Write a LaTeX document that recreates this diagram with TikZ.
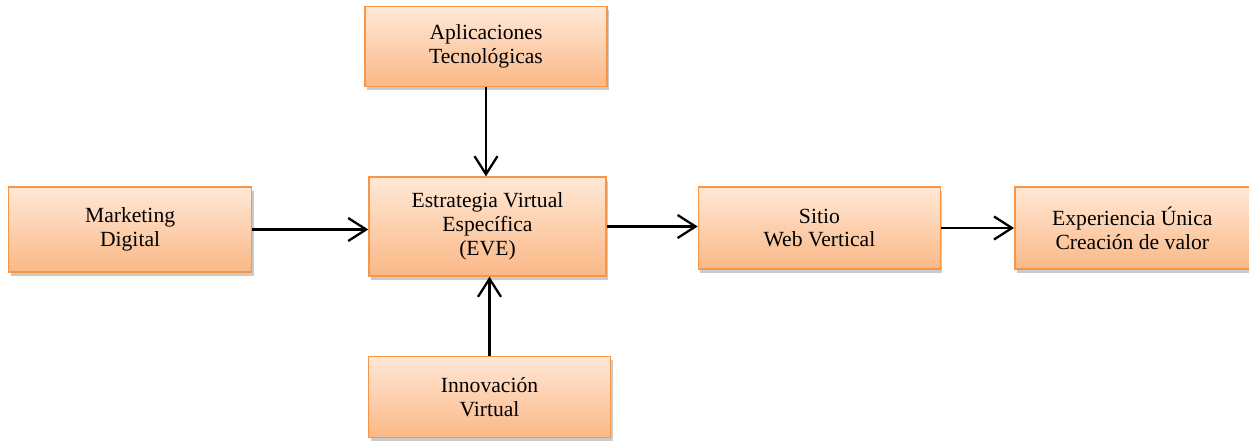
\documentclass[tikz,border=0pt]{standalone}
\usepackage{fontspec}
\setmainfont{Liberation Serif}
\usetikzlibrary{positioning,shadows,arrows.meta}
\definecolor{boxline}{RGB}{247,150,70}
\definecolor{boxtop}{RGB}{255,232,214}
\definecolor{boxbottom}{RGB}{250,184,134}

\begin{document}
\begin{tikzpicture}[auto, >={Straight Barb[length=3.6mm,width=4.6mm]}]
     		%define block styles
     		\tikzset{
     			block/.style={rectangle, minimum width=4.84cm, minimum height=1.64cm, align=center, draw=boxline, line width=0.8pt, top color=boxtop, bottom color=boxbottom, drop shadow={shadow xshift=0.4mm, shadow yshift=-0.7mm, opacity=0.35, fill=black!60}, font=\fontsize{12.3}{13.5}\selectfont},
     			arrow/.style={line width=1.3pt,->},}
     		\useasboundingbox (-9.75,-4.27) rectangle (15.23,4.53);
     		%define nodes
     		\node[block, minimum width=4.74cm, minimum height=1.98cm](eve){Estrategia Virtual\\Específica\\(EVE)};
     		\node[block, above=1.78cm of eve, xshift=-0.03cm, minimum height=1.6cm](apps){Aplicaciones\\Tecnológicas};
     		\node[block, below=1.58cm of eve, xshift=0.04cm, minimum height=1.62cm](innov){Innovación\\Virtual};
     		\node[block, left=2.32cm of eve, yshift=-0.06cm, minimum width=4.86cm, minimum height=1.7cm](mkt){Marketing\\Digital};
     		\node[block, right=1.82cm of eve, yshift=-0.03cm](sitio){Sitio\\Web Vertical};
     		\node[block, right=1.46cm of sitio, minimum width=4.7cm](exper){Experiencia Única\\Creación de valor};
     		%define arrows
     		\draw[arrow](mkt.east) -- (mkt.east -| eve.west);
     		\draw[arrow](eve.east) -- (eve.east -| sitio.west);
     		\draw[arrow](sitio) -- (exper);
     		\draw[arrow](apps.south) -- (apps.south |- eve.north);
     		\draw[arrow](innov.north) -- (innov.north |- eve.south);
     	\end{tikzpicture}
\end{document}
